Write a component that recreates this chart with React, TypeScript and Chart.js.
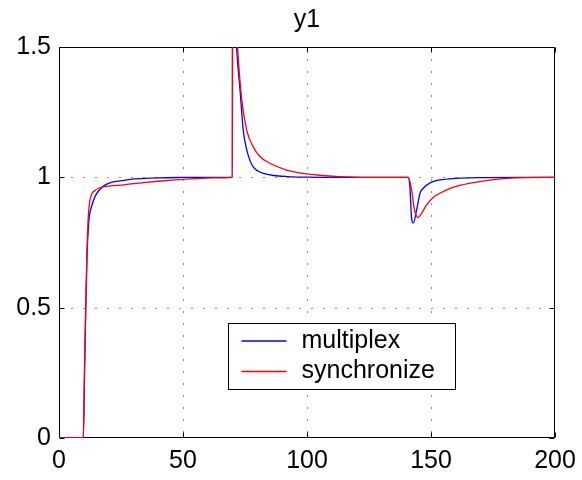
import React, { useEffect, useRef } from "react";
import { Chart, registerables } from "chart.js";

Chart.register(...registerables);

const titleText = "y1";
const xTicks = [0, 50, 100, 150, 200];
const yTicks = [0, 0.5, 1, 1.5];
const yTickLabels = ["0", "0.5", "1", "1.5"];
const seriesNames = ["multiplex", "synchronize"];
const seriesColors = ["#0000ff", "#ff0000"];

const multiplexT = [0, 9.8, 10.3, 10.8, 11.3, 11.8, 12.3, 13.1, 14.5, 16.5, 18.5, 21.2, 25.3, 29, 33.3, 40, 50, 60, 69.9, 70, 71.6, 73.0, 74.3, 75.7, 77, 78.3, 80, 82.4, 86.5, 92, 100, 120, 140.8, 141.5, 142.2, 142.9, 144.2, 145.6, 146.9, 149.6, 153.6, 160, 170, 185, 200];
const multiplexY = [0, 0, 0.25, 0.5, 0.7, 0.8, 0.855, 0.887, 0.926, 0.954, 0.97, 0.981, 0.987, 0.992, 0.995, 0.998, 0.9995, 1.0, 1.0, 1.9, 1.5, 1.335, 1.18, 1.105, 1.065, 1.04, 1.025, 1.015, 1.007, 1.003, 1.001, 1.0, 1.0, 0.96, 0.84, 0.825, 0.875, 0.94, 0.958, 0.979, 0.99, 0.996, 0.999, 1.0, 1.0];

const synchronizeT = [0, 9.8, 10.3, 10.8, 11.3, 11.8, 12.5, 13.4, 14.5, 15.9, 18.5, 22, 25.3, 29, 33.3, 40, 46.8, 55, 62, 69.9, 70, 72.0, 73.7, 75.7, 78.3, 81, 85, 91.8, 98.5, 105, 113, 125, 140.9, 142.2, 143.1, 144.1, 144.9, 146.2, 148.2, 150.9, 153.6, 157.7, 162, 168.4, 176, 184, 200];
const synchronizeY = [0, 0, 0.27, 0.52, 0.72, 0.849, 0.913, 0.939, 0.949, 0.958, 0.964, 0.968, 0.97, 0.975, 0.979, 0.985, 0.99, 0.995, 0.998, 1.0, 1.9, 1.5, 1.297, 1.18, 1.117, 1.08, 1.054, 1.028, 1.015, 1.008, 1.003, 1.0, 1.0, 0.951, 0.887, 0.852, 0.846, 0.862, 0.894, 0.923, 0.939, 0.958, 0.97, 0.982, 0.992, 0.998, 1.0];

const FONT = "'Liberation Sans', Arial, Helvetica, sans-serif";

const framePlugin = {
  id: "matlabFrame",
  beforeDatasetsDraw(chart: any) {
    const { ctx, chartArea: a, scales } = chart;
    const xs = scales.x;
    const ys = scales.y;
    const L = Math.round(a.left) + 0.5;
    const R = Math.round(a.right) - 0.5;
    const T = Math.round(a.top) + 0.5;
    const B = Math.round(a.bottom) - 0.5;
    ctx.save();
    ctx.strokeStyle = "#222";
    ctx.lineWidth = 1;
    ctx.setLineDash([1, 11]);
    xTicks.forEach((v) => {
      if (v === xTicks[0] || v === xTicks[xTicks.length - 1]) return;
      const px = Math.round(xs.getPixelForValue(v)) + 0.5;
      ctx.beginPath();
      ctx.moveTo(px, T);
      ctx.lineTo(px, B);
      ctx.stroke();
    });
    yTicks.forEach((v) => {
      if (v === yTicks[0] || v === yTicks[yTicks.length - 1]) return;
      const py = Math.round(ys.getPixelForValue(v)) + 0.5;
      ctx.beginPath();
      ctx.moveTo(L, py);
      ctx.lineTo(R, py);
      ctx.stroke();
    });
    ctx.setLineDash([]);
    ctx.strokeStyle = "#000";
    ctx.beginPath();
    ctx.rect(L, T, R - L, B - T);
    ctx.stroke();
    const tl = 5;
    xTicks.forEach((v) => {
      const px = Math.round(xs.getPixelForValue(v)) + 0.5;
      ctx.beginPath();
      ctx.moveTo(px, B);
      ctx.lineTo(px, B - tl);
      ctx.moveTo(px, T);
      ctx.lineTo(px, T + tl);
      ctx.stroke();
    });
    yTicks.forEach((v) => {
      const py = Math.round(ys.getPixelForValue(v)) + 0.5;
      ctx.beginPath();
      ctx.moveTo(L, py);
      ctx.lineTo(L + tl, py);
      ctx.moveTo(R, py);
      ctx.lineTo(R - tl, py);
      ctx.stroke();
    });
    ctx.restore();
  },
  afterDraw(chart: any) {
    const { ctx, chartArea: a } = chart;
    ctx.save();
    // title centred over the plot box
    ctx.fillStyle = "#000";
    ctx.font = `25px ${FONT}`;
    ctx.textAlign = "center";
    ctx.textBaseline = "alphabetic";
    ctx.fillText(titleText, (a.left + a.right) / 2, a.top - 20);
    // legend
    const bx = Math.round(a.left) + 169.5;
    const by = Math.round(a.top) + 276.5;
    const bw = 227;
    const bh = 66;
    ctx.fillStyle = "#fff";
    ctx.fillRect(bx, by, bw, bh);
    ctx.strokeStyle = "#000";
    ctx.lineWidth = 1;
    ctx.strokeRect(bx, by, bw, bh);
    ctx.textBaseline = "middle";
    ctx.textAlign = "left";
    chart.data.datasets.forEach((ds: any, i: number) => {
      const ly = by + 17.5 + i * 30.5;
      ctx.strokeStyle = ds.borderColor;
      ctx.lineWidth = 1.3;
      ctx.beginPath();
      ctx.moveTo(bx + 13, ly);
      ctx.lineTo(bx + 58, ly);
      ctx.stroke();
      ctx.fillStyle = "#000";
      ctx.fillText(ds.label, bx + 73, ly);
    });
    ctx.restore();
  },
};

export default function App() {
  const ref = useRef<HTMLCanvasElement | null>(null);
  useEffect(() => {
    if (!ref.current) return;
    const mk = (t: number[], y: number[]) => t.map((x, i) => ({ x, y: y[i] }));
    const chart = new Chart(ref.current, {
      type: "line",
      data: {
        datasets: [
          {
            label: seriesNames[0],
            data: mk(multiplexT, multiplexY),
            borderColor: seriesColors[0],
            borderWidth: 1.3,
            pointRadius: 0,
            fill: false,
            cubicInterpolationMode: "monotone",
            order: 1,
          },
          {
            label: seriesNames[1],
            data: mk(synchronizeT, synchronizeY),
            borderColor: seriesColors[1],
            borderWidth: 1.3,
            pointRadius: 0,
            fill: false,
            cubicInterpolationMode: "monotone",
            order: 0,
          },
        ],
      },
      options: {
        responsive: false,
        animation: false,
        devicePixelRatio: 1,
        layout: { padding: { left: 0, right: 27, top: 47, bottom: 0 } },
        plugins: {
          legend: { display: false },
          tooltip: { enabled: false },
          title: { display: false },
        },
        scales: {
          x: {
            type: "linear",
            min: 0,
            max: 200,
            afterBuildTicks: (s: any) => {
              s.ticks = xTicks.map((v) => ({ value: v }));
            },
            afterFit: (s: any) => {
              s.height = 42;
              s.paddingLeft = 0;
              s.paddingRight = 0;
            },
            grid: { display: false, drawTicks: false },
            border: { display: false },
            ticks: {
              color: "#000",
              padding: 8,
              maxRotation: 0,
              font: { family: FONT, size: 25 },
              callback: (v: any) => String(v),
            },
          },
          y: {
            type: "linear",
            min: 0,
            max: 1.5,
            afterBuildTicks: (s: any) => {
              s.ticks = yTicks.map((v) => ({ value: v }));
            },
            afterFit: (s: any) => {
              s.width = 59;
              s.paddingTop = 0;
              s.paddingBottom = 0;
            },
            grid: { display: false, drawTicks: false },
            border: { display: false },
            ticks: {
              color: "#000",
              padding: 8,
              font: { family: FONT, size: 25 },
              callback: (v: any) => {
                const i = yTicks.indexOf(Number(v));
                return i >= 0 ? yTickLabels[i] : "";
              },
            },
          },
        },
      },
      plugins: [framePlugin],
    });
    return () => chart.destroy();
  }, []);
  return (
    <div style={{ position: "absolute", left: 0, top: 0, width: 582, height: 480, background: "#fff" }}>
      <canvas ref={ref} width={582} height={480} style={{ display: "block", width: 582, height: 480 }} />
    </div>
  );
}
